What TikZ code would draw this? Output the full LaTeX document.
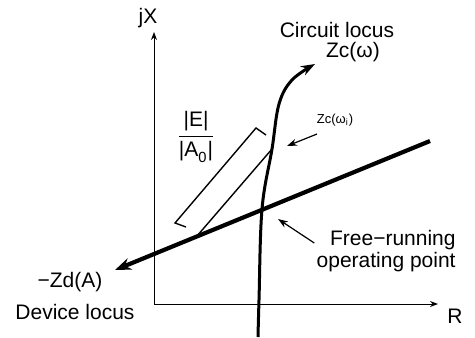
\documentclass[tikz,border=0pt]{standalone}
\usepackage{amsmath}
\usepackage{fontspec}
\setmainfont{Liberation Sans}
\usetikzlibrary{arrows.meta,positioning}

\begin{document}
\begin{tikzpicture}[x=0.5pt, y=-0.5pt, >=Stealth,
  ax/.style={line width=0.5pt, -{Stealth[length=4pt,width=3pt]}},
  dl/.style={line width=2.1pt, -{Stealth[length=8pt,width=6pt]}},
  cl/.style={line width=1.5pt, -{Stealth[length=7pt,width=5pt]}},
  pt/.style={line width=0.6pt, -{Stealth[length=5pt,width=3.5pt]}},
  br/.style={line width=0.7pt},
  lb/.style={font=\fontsize{10.5}{11}\selectfont, inner sep=1pt},
  sm/.style={font=\fontsize{6.5}{8}\selectfont, inner sep=1pt}]
\useasboundingbox (0,0) rectangle (475,337);
\coordinate (o) at (154,304);
\coordinate (ytop) at (154,32);
\coordinate (xend) at (438,304);
\coordinate (dstart) at (430,141);
\coordinate (dend) at (115,270);
\coordinate (op) at (262,209);
\coordinate (base) at (197,236);
\coordinate (wi) at (272,149);
\coordinate (b1) at (186,227);
\coordinate (b2) at (175,223);
\coordinate (b3) at (256,128);
\coordinate (b4) at (266,135);
\coordinate (opend) at (278,219);
\coordinate (wiend) at (287,146);

\draw[ax] (o) -- (ytop);
\draw[ax] (o) -- (xend);
\node[lb] (jx) at (148,18) {jX};
\node[lb] (r) at (455,316) {R};

\draw[dl] (dstart) -- (dend);
\draw[cl] plot[smooth, tension=0.6] coordinates
  {(258,337) (259,300) (op) (wi) (279,104) (292,80) (315,64)};
\draw[br] (base) -- (wi);
\draw[br] (b1) -- (b2) -- (b3) -- (b4);

\node[lb] (frac) at (196,137) {$\dfrac{\text{|E|}}{\text{|A}_{\text{0}}\text{|}}$};
\node[lb] (cl1) at (337,30) {Circuit locus};
\node[lb] (cl2) at (353,52) {Zc(ω)};
\node[sm] (zwi) at (335,120) {Zc(ω\textsubscript{i})};
\node[lb, align=right, anchor=east] (fr) at (458,251) {Free−running\\operating point};
\node[lb] (zd) at (70,282) {−Zd(A)};
\node[lb] (dev) at (75,312) {Device locus};

\draw[pt] (317,134) -- (wiend);
\draw[pt] (fr.west |- 0,243) -- (opend);
\end{tikzpicture}
\end{document}
